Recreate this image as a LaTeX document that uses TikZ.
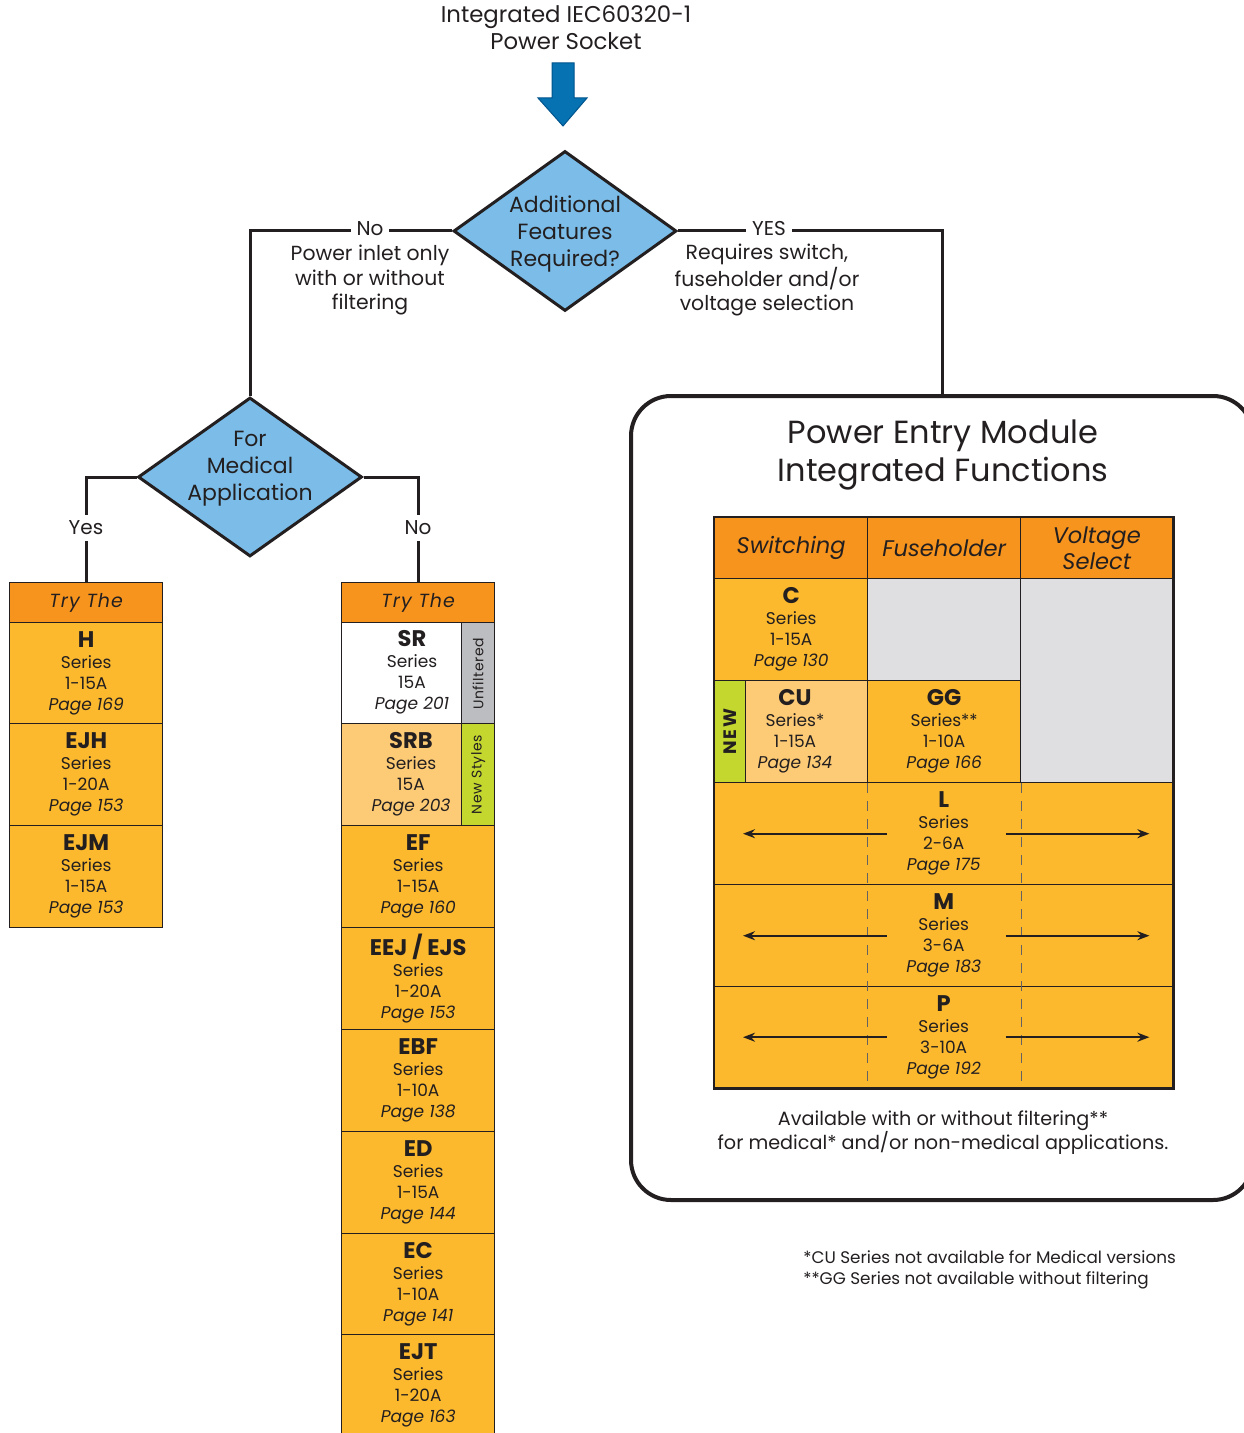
\documentclass[tikz,border=0pt]{standalone}
\usepackage{fontspec}
\setmainfont{Poppins}
\usetikzlibrary{shapes.geometric,arrows.meta,calc}
\definecolor{lc}{RGB}{35,31,32}
\definecolor{org}{RGB}{247,148,29}
\definecolor{ylw}{RGB}{252,185,45}
\definecolor{lorg}{RGB}{253,203,117}
\definecolor{gcell}{RGB}{223,223,225}
\definecolor{gstrip}{RGB}{188,189,192}
\definecolor{grn}{RGB}{195,215,47}
\definecolor{dblue}{RGB}{123,189,232}
\definecolor{ablue}{RGB}{6,114,178}
\definecolor{ablued}{RGB}{0,84,140}
\newcommand\fsA{\fontsize{8.5}{10.5}\selectfont}
\newcommand\sers[4]{{\fontsize{11.3}{12}\selectfont\bfseries #1}\\#2\\#3\\\textit{Page #4}}
\begin{document}
\begin{tikzpicture}[x=0.5pt,y=-0.5pt,
  every node/.style={text=lc},
  conn/.style={draw=lc, line width=1.5pt},
  dia/.style={diamond, draw=lc, line width=1.5pt, fill=dblue, inner sep=0pt},
  dtext/.style={align=center, font=\fontsize{11}{13.5}\selectfont, inner sep=0pt},
  btext/.style={align=center, font=\fontsize{10.2}{12.25}\selectfont, inner sep=1pt},
  gap/.style={fill=white, inner sep=3pt, font=\fontsize{10}{12}\selectfont},
  box/.style={draw=lc, line width=0.7pt, anchor=north west, inner sep=0pt, minimum width=76.5pt, minimum height=51pt, align=center, font=\fsA},
  hdr/.style={box, fill=org, minimum height=20pt, font=\fontsize{9.5}{11}\selectfont\itshape\addfontfeatures{LetterSpace=6}},
  thdr/.style={box, fill=org, minimum height=30.5pt, font=\fontsize{11.3}{12.8}\selectfont\itshape},
  stext/.style={align=center, font=\fsA, inner sep=0pt},
  vtext/.style={rotate=90, inner sep=0pt, font=\fontsize{7}{8}\selectfont\addfontfeatures{LetterSpace=4}},
  dashln/.style={draw=lc!70, line width=0.5pt, dash pattern=on 5pt off 4pt},
  arr/.style={draw=lc, line width=1pt, -{Stealth[length=6pt,width=4.5pt]}},
  pembox/.style={draw=lc, line width=2pt, rounded corners=20pt, minimum width=311pt, minimum height=402pt, inner sep=0pt}
]
\useasboundingbox (0,0) rectangle (1243,1433);

% title and arrow
\node[align=center, font=\fontsize{11.4}{13.5}\selectfont, inner sep=0pt] (title) at (566,28) {Integrated IEC60320-1\\Power Socket};
\filldraw[fill=ablue, draw=ablued, line width=0.5pt]
  (552,63) -- (574,63) -- (574,98) -- (587,98) -- (563,126) -- (538,98) -- (552,98) -- cycle;

% diamonds
\node[dia, minimum width=111.5pt, minimum height=80pt] (d1) at (565,231) {};
\node[dtext] (d1t) at (565,233.5) {Additional\\Features\\Required?};
\node[dia, minimum width=112pt, minimum height=79.5pt] (d2) at (250,477) {};
\node[dtext] (d2t) at (250,469) {For\\Medical\\Application};

% big module box
\node[pembox] (pem) at (942,798) {};
\node[align=center, font=\fontsize{16}{19}\selectfont, inner sep=0pt] (pemt) at (943,455) {Power Entry Module\\Integrated Functions};

% left column
\node[hdr] (hdrL) at (9,582) {Try The};
\node[box, fill=ylw] (h) at (9,622) {\sers{H}{Series}{1-15A}{169}};
\node[box, fill=ylw] (ejh) at (9,723) {\sers{EJH}{Series}{1-20A}{153}};
\node[box, fill=ylw] (ejm) at (9,825) {\sers{EJM}{Series}{1-15A}{153}};

% middle column
\node[hdr] (hdrM) at (341,582) {Try The};
\node[box, fill=white, minimum width=60pt] (sr) at (341,622) {};
\node[stext] (srt) at (412,672) {\sers{SR}{Series}{15A}{201}};
\node[box, fill=gstrip, minimum width=16.5pt] (srs) at (461,622) {};
\node[vtext] (srst) at (srs.center) {Unfiltered};
\node[box, fill=lorg, minimum width=60pt] (srb) at (341,723) {};
\node[stext] (srbt) at (411,774) {\sers{SRB}{Series}{15A}{203}};
\node[box, fill=grn, minimum width=16.5pt] (srbs) at (461,723) {};
\node[vtext] (srbst) at (srbs.center) {New Styles};
\node[box, fill=ylw] (ef) at (341,825) {\sers{EF}{Series}{1-15A}{160}};
\node[box, fill=ylw] (eej) at (341,927) {\sers{EEJ / EJS}{Series}{1-20A}{153}};
\node[box, fill=ylw] (ebf) at (341,1029) {\sers{EBF}{Series}{1-10A}{138}};
\node[box, fill=ylw] (ed) at (341,1131) {\sers{ED}{Series}{1-15A}{144}};
\node[box, fill=ylw] (ec) at (341,1233) {\sers{EC}{Series}{1-10A}{141}};
\node[box, fill=ylw] (ejt) at (341,1334) {\sers{EJT}{Series}{1-20A}{163}};

% table
\node[thdr] (hs) at (714,517) {Switching};
\node[thdr] (hf) at (867,517) {Fuseholder};
\node[thdr, minimum width=76pt] (hv) at (1020,517) {Voltage\\Select};
\node[box, fill=ylw] (c) at (714,578) {\sers{C}{Series}{1-15A}{130}};
\node[box, fill=gcell] (g1) at (867,578) {};
\node[box, fill=gcell, minimum width=76pt, minimum height=102pt] (g2) at (1020,578) {};
\node[box, fill=grn, minimum width=15.5pt] (nw) at (714,680) {};
\node[rotate=90, inner sep=0pt, font=\fontsize{9}{10}\selectfont\bfseries\addfontfeatures{LetterSpace=12}] (nwt) at (nw.center) {NEW};
\node[box, fill=lorg, minimum width=61pt] (cu) at (745,680) {};
\node[stext] (cut) at (795,731) {\sers{CU}{Series*}{1-15A}{134}};
\node[box, fill=ylw] (gg) at (867,680) {\sers{GG}{Series**}{1-10A}{166}};
\node[box, fill=ylw, minimum width=229pt] (l) at (714,782) {\sers{L}{Series}{2-6A}{175}};
\node[box, fill=ylw, minimum width=229pt] (m) at (714,884) {\sers{M}{Series}{3-6A}{183}};
\node[box, fill=ylw, minimum width=229pt, minimum height=50.5pt] (p) at (714,986) {\sers{P}{Series}{3-10A}{192}};
\draw[draw=lc, line width=1.2pt] (hs.north west) rectangle (p.south east);
\draw[dashln] (gg.south west) -- (gg.south west |- p.south);
\draw[dashln] (gg.south east) -- (gg.south east |- p.south);
\foreach \r in {l,m,p}{
  \draw[arr] ([xshift=-28.5pt]\r.center) -- ([xshift=14.5pt]\r.west);
  \draw[arr] ([xshift=31pt]\r.center) -- ([xshift=-12pt]\r.east);
}
\node[align=center, font=\fontsize{9.6}{12}\selectfont, inner sep=0pt] (avail) at (943,1133) {Available with or without filtering**\\for medical* and/or non-medical applications.};

% footnotes
\node[align=left, anchor=north west, font=\fontsize{8.4}{10.5}\selectfont, inner sep=0pt] (foot) at (803,1250) {*CU Series not available for Medical versions\\**GG Series not available without filtering};

% connectors
\draw[conn] (d1.west) -| (d2.north);
\draw[conn] (d1.east) -| (pem.north);
\draw[conn] (d2.west) -| (hdrL.north);
\draw[conn] (d2.east) -| (hdrM.north);

% connector labels
\node[gap] (lno) at (370,229) {No};
\node[gap] (lyes) at (769,229) {YES};
\node[gap] (lyes2) at (86,528) {Yes};
\node[gap] (lno2) at (418,528) {No};
\node[btext] (bno) at (370,280) {Power inlet only\\with or without\\filtering};
\node[btext] (byes) at (767,280) {Requires switch,\\fuseholder and/or\\voltage selection};
\end{tikzpicture}
\end{document}
